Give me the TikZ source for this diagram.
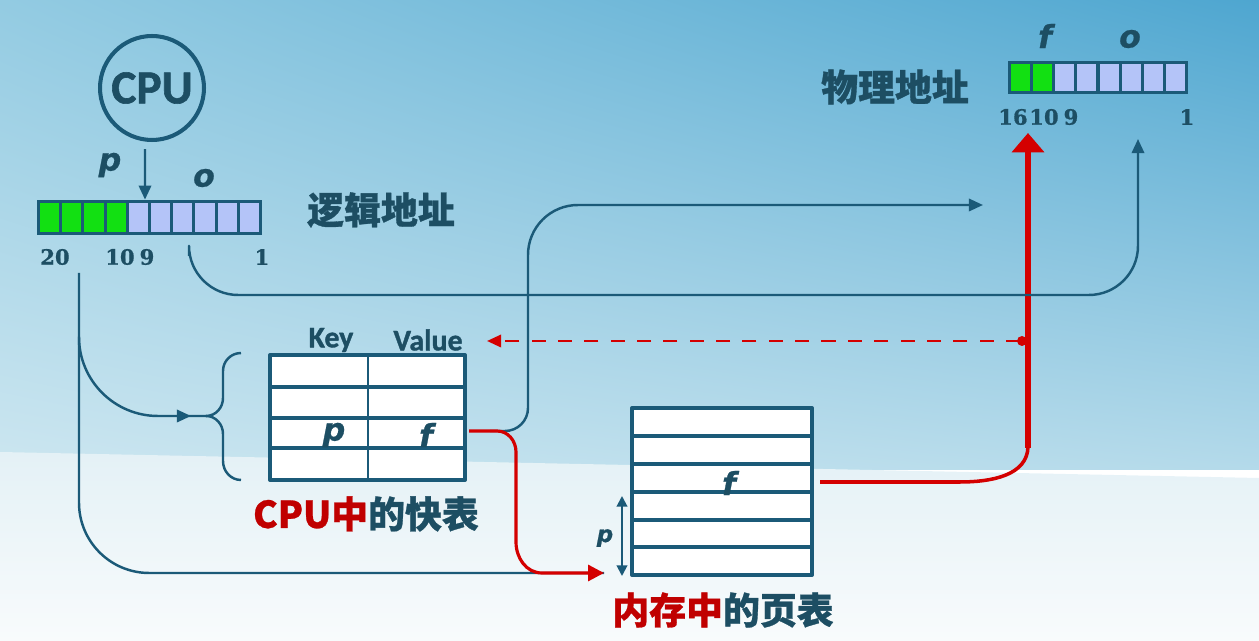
\documentclass[tikz,border=0pt]{standalone}
\usepackage{fontspec}
\setmainfont{Carlito}[BoldFeatures={FakeBold=1.2}]
\newfontfamily\cjk{Noto Sans CJK SC}[BoldFeatures={FakeBold=0.8}]
\newfontfamily\itf{DejaVu Sans}[BoldItalicFeatures={FakeBold=0.8}]
\newfontfamily\numf{DejaVu Serif}[BoldFeatures={FakeBold=0.8}]
\usetikzlibrary{arrows.meta,shadings,calc}

\definecolor{dk}{HTML}{1B5A78}
\definecolor{txt}{HTML}{1D4E63}
\definecolor{rd}{HTML}{D40000}
\definecolor{rdt}{HTML}{C00000}
\definecolor{grn}{HTML}{12E012}
\definecolor{cellb}{HTML}{B4C4F8}
\definecolor{bgUL}{HTML}{93CBE2}
\definecolor{bgUR}{HTML}{4EA6D0}
\definecolor{bgLL}{HTML}{CCE6F0}
\definecolor{bgLR}{HTML}{B4DAEA}
\definecolor{bgB1}{HTML}{E4F1F6}
\definecolor{bgB2}{HTML}{F8FBFC}

\begin{document}
\begin{tikzpicture}[x=0.02cm,y=-0.02cm,line join=round,
  ln/.style={draw=dk,line width=1.4pt},
  arr/.style={ln,-{Triangle[length=8pt,width=7pt]}},
  rln/.style={draw=rd,line width=1.8pt},
  lbl/.style={inner sep=0pt,text=txt},
  ital/.style={lbl,font=\itf\bfseries\itshape\fontsize{18}{18}\selectfont},
  num/.style={lbl,font=\numf\bfseries\fontsize{12}{12}\selectfont},
  hanzi/.style={lbl,font=\cjk\bfseries\fontsize{21}{21}\selectfont},
  cellbox/.style={inner sep=0pt,draw=dk,fill=white,line width=2.3pt}]
\useasboundingbox (0,0) rectangle (1259,641);

% background
\shade[upper left=bgUL,upper right=bgUR,lower left=bgLL,lower right=bgLR] (0,0) rectangle (1259,470);
\shade[top color=bgB1,bottom color=bgB2] (0,452) -- (1259,478) -- (1259,641) -- (0,641) -- cycle;

% CPU
\node[name=cpu,circle,draw=dk,line width=2.3pt,minimum size=2.08cm,inner sep=0pt,
  text=txt,font=\bfseries\fontsize{27}{27}\selectfont] at (152,88) {CPU};

% logical address register (10 bits shown)
\node[name=laddr,inner sep=0pt,minimum width=4.5cm,minimum height=0.7cm] at (149.5,217.5) {};
\fill[dk] (37,200) rectangle (262,235);
\foreach \i in {0,...,9}{
  \pgfmathsetmacro{\xa}{40+22.2*\i}
  \ifnum\i<4 \def\cc{grn}\else\def\cc{cellb}\fi
  \fill[\cc] (\xa,203) rectangle ({\xa+19.2},232);
}
\draw[arr] ([shift={(-7,7)}]cpu.south) -- ([xshift=-0.14cm]cpu.south |- laddr.north);
\node[ital,name=lp] at (110,165) {p};
\node[ital,name=lo] at (204,178) {o};
\node[num,name=l20] at (55,257) {20};
\node[num,name=l10] at (120,257) {10};
\node[num,name=l9] at (147,257) {9};
\node[num,name=l1] at (262,257) {1};
\node[hanzi,name=lname] at (381,210) {逻辑地址};

% physical address register
\node[name=paddr,inner sep=0pt,minimum width=3.6cm,minimum height=0.66cm] at (1098,77.5) {};
\fill[dk] (1008,61) rectangle (1188,94);
\foreach \i in {0,...,7}{
  \pgfmathsetmacro{\xa}{1011+22.125*\i}
  \ifnum\i<2 \def\cc{grn}\else\def\cc{cellb}\fi
  \fill[\cc] (\xa,64) rectangle ({\xa+19.1},91);
}
\node[ital,name=pf] at (1045,36) {f};
\node[ital,name=po] at (1130,39) {o};
\node[num,name=p16] at (1013,117) {16};
\node[num,name=p10] at (1044,117) {10};
\node[num,name=p9] at (1071,117) {9};
\node[num,name=p1] at (1187,117) {1};
\node[hanzi,name=pname] at (895,87) {物理地址};

% TLB
\node[name=tlb,cellbox,minimum width=3.9cm,minimum height=2.5cm] at (367.5,417.5) {};
\foreach \y in {387,418,448} \draw[dk,line width=2.3pt] (270,\y) -- (465,\y);
\draw[dk,line width=1.1pt] (368,355) -- (368,480);
\node[lbl,name=key,font=\bfseries\fontsize{17}{17}\selectfont] at (331,340) {Key};
\node[lbl,name=val,font=\bfseries\fontsize{17}{17}\selectfont] at (428,340) {Value};
\node[ital,name=tp] at (334,435) {p};
\node[ital,name=tf] at (426,435) {f};
\node[hanzi,name=tlbname] at (366,514) {\textcolor{rdt}{\bfseries CPU中}的快表};
\coordinate (tlbf) at (469,431);

% page table in memory
\node[name=pt,cellbox,minimum width=3.6cm,minimum height=3.34cm] at (722,491.5) {};
\foreach \y in {436,464,492,520,547} \draw[dk,line width=2.3pt] (632,\y) -- (812,\y);
\node[ital,name=ptf] at (729,483) {f};
\node[ital,name=ptp,font=\itf\bfseries\itshape\fontsize{13}{13}\selectfont] at (605,538) {p};
\draw[dk,line width=1.1pt,{Triangle[length=6pt,width=6pt]}-{Triangle[length=6pt,width=6pt]}] (622,496) -- (622,576);
\node[hanzi,name=ptname] at (723,610) {\textcolor{rdt}{内存中}的页表};
\coordinate (ptrow) at (820,482);
\coordinate (ptin) at (604,573);

% page number to TLB and to page table
\coordinate (pbit) at (79,273);
\draw[ln,rounded corners=40] (pbit) -- (79,573) -- (ptin);
\draw[ln,rounded corners=45] (79,345) -- (79,416) -- (207,416);
\draw[arr] (170,416) -- (191,416);
\draw[ln,line width=1.4pt] (241,353) to[out=180,in=90] (223,371) -- (223,398)
  to[out=-90,in=0] (206,416) to[out=0,in=90] (223,434) -- (223,461)
  to[out=-90,in=180] (241,480);

% frame number from page table to physical address
\draw[rd,line width=2pt] (ptrow) -- (960,482) to[out=0,in=-90] (1028,446);
\draw[rd,line width=3.8pt,-{Triangle[length=11pt,width=18pt]}] (1028,448) -- (1028,133);

% TLB update (dashed)
\fill[rd] (1022,341) circle (5);
\draw[rd,line width=1.4pt,dash pattern=on 8pt off 7pt,-{Triangle[length=8pt,width=7pt]}] (1020,341) -- (487,341);
\draw[rd,line width=3.8pt] (1028,330) -- (1028,352);

% TLB hit: frame number to physical address
\draw[arr] (490,431) -- (505,431) to[out=0,in=-90] (528,408) -- (528,255)
  to[out=90,in=180] (578,205) -- (983,205);

% offset carried straight to physical address
\coordinate (obit) at (189,256);
\coordinate (poff) at (1138,139);
\draw[arr,rounded corners=28] (obit) -- (189,295) -- (1138,295) -- (poff);

% TLB hit path into page table
\draw[rln,-{Triangle[length=9pt,width=9pt]}] (tlbf) -- (497,431) to[out=0,in=90] (516,452)
  -- (516,542) to[out=-90,in=180] (542,573) -- (ptin);
\end{tikzpicture}
\end{document}
